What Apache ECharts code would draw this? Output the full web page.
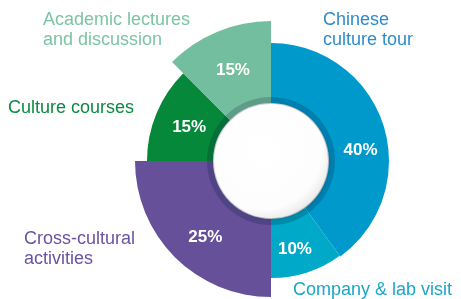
<!DOCTYPE html>
<html>
<head>
<meta charset="utf-8">
<script src="https://cdn.jsdelivr.net/npm/echarts@6/dist/echarts.min.js"></script>
<style>
  html, body { margin: 0; padding: 0; background: #fff; }
  #main { width: 461px; height: 299px; }
</style>
</head>
<body>
<div id="main"></div>
<script>
// data
const names = ['Chinese\nculture tour', 'Company & lab visit', 'Cross-cultural\nactivities', 'Culture courses', 'Academic lectures\nand discussion'];
// angular share of each slice as drawn
const shares = [40, 10, 25, 12.5, 12.5];
// the text printed on each slice
const pctLabels = ['40%', '10%', '25%', '15%', '15%'];

// styling
const colors = ['#0099cc', '#00a9c8', '#66509a', '#06883a', '#73be9e'];
const textColors = ['#2f8ccc', '#1aa7c9', '#6a53a0', '#0b8a40', '#7cc4a3'];
const outerR = [118, 117, 136, 124, 140];
const labelShift = [[3, 17], [-4, 2], [5, 6], [5, 2], [1, 4]];
const center = [271, 161];
const font = '"Liberation Sans", Arial, sans-serif';

const chart = echarts.init(document.getElementById('main'));

// one pie per slice so every slice can have its own radius
const slices = shares.map((s, i) => ({
  type: 'pie',
  center,
  radius: [58, outerR[i]],
  startAngle: 90,
  clockwise: true,
  silent: true,
  animation: false,
  z: 2,
  label: { show: false },
  labelLine: { show: false },
  labelLayout: () => ({ dx: labelShift[i][0], dy: labelShift[i][1] }),
  data: shares.map((v, j) => j === i ? {
    value: v,
    name: names[j],
    itemStyle: { color: colors[j] },
    label: {
      show: true,
      position: 'inside',
      formatter: pctLabels[j],
      color: '#fff',
      fontFamily: font,
      fontWeight: 'bold',
      fontSize: 17
    }
  } : { value: v, name: names[j], itemStyle: { color: 'transparent' } })
}));

// dark band inside the ring
const band = {
  type: 'pie', center, radius: [56, 64], silent: true, animation: false, z: 3,
  label: { show: false }, labelLine: { show: false },
  data: [{ value: 1, itemStyle: { color: 'rgba(0,20,50,0.2)' } }]
};

// white disc in the middle
const disc = {
  type: 'pie', center, radius: [0, 57], silent: true, animation: false, z: 4,
  label: { show: false }, labelLine: { show: false },
  data: [{
    value: 1,
    itemStyle: {
      color: new echarts.graphic.RadialGradient(0.42, 0.4, 0.62, [
        { offset: 0, color: '#ffffff' },
        { offset: 0.85, color: '#fdfdfd' },
        { offset: 1, color: '#ececec' }
      ]),
      shadowBlur: 3,
      shadowColor: 'rgba(0,0,0,0.15)',
      shadowOffsetX: 1,
      shadowOffsetY: 1
    }
  }]
};

// outer names
const namePos = [[323, 10], [293, 280], [24, 229], [8, 98], [43, 10]];
const graphic = names.map((n, i) => ({
  type: 'text',
  left: namePos[i][0],
  top: namePos[i][1],
  style: {
    text: n,
    fill: textColors[i],
    font: '18px ' + font,
    lineHeight: 20
  }
}));

chart.setOption({
  backgroundColor: '#fff',
  animation: false,
  graphic,
  series: [...slices, band, disc]
});
</script>
</body>
</html>
